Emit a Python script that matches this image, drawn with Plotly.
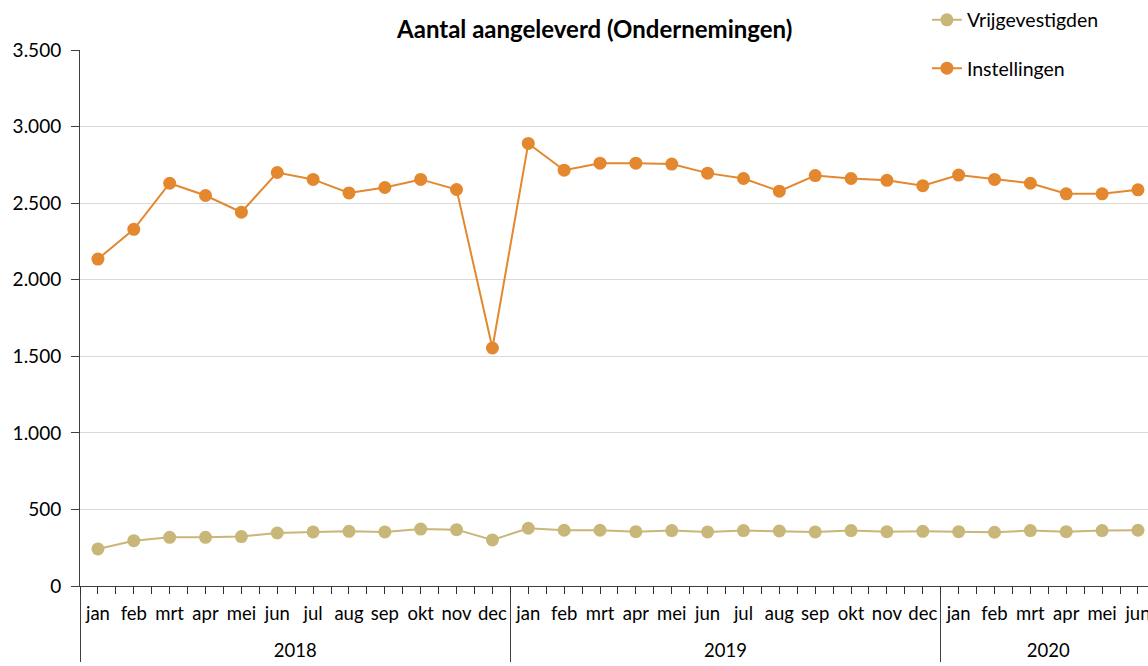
import plotly.graph_objects as go

years = ["2018"] * 12 + ["2019"] * 12 + ["2020"] * 6
months = ["jan", "feb", "mrt", "apr", "mei", "jun", "jul", "aug", "sep", "okt", "nov", "dec",
          "jan", "feb", "mrt", "apr", "mei", "jun", "jul", "aug", "sep", "okt", "nov", "dec",
          "jan", "feb", "mrt", "apr", "mei", "jun"]

vrijgevestigden = [242, 296, 318, 318, 323, 346, 353, 357, 353, 372, 368, 301,
                   377, 364, 364, 355, 362, 353, 362, 359, 353, 362, 355, 357,
                   355, 351, 362, 355, 362, 364]
instellingen = [2135, 2329, 2630, 2550, 2441, 2700, 2655, 2567, 2602, 2655, 2589, 1554,
                2890, 2715, 2761, 2761, 2755, 2696, 2661, 2578, 2680, 2661, 2649, 2614,
                2683, 2655, 2630, 2561, 2561, 2587]

y_ticks = [0, 500, 1000, 1500, 2000, 2500, 3000, 3500]
y_ticktext = ["0", "500", "1.000", "1.500", "2.000", "2.500", "3.000", "3.500"]

# outer level labels (leading line break pushes the year row lower, as in the reference)
year_labels = ["<br>" + y for y in years]

FONT = "Lato, 'Open Sans', sans-serif"
tan = "#C9B679"
orange = "#E4882F"

fig = go.Figure()
fig.add_trace(go.Scatter(x=[year_labels, months], y=vrijgevestigden, name="Vrijgevestigden",
                         mode="lines+markers", legendgroup="a",
                         line=dict(color=tan, width=2), marker=dict(color=tan, size=13)))
fig.add_trace(go.Scatter(x=[year_labels, months], y=instellingen, name="Instellingen",
                         mode="lines+markers", legendgroup="b",
                         line=dict(color=orange, width=2), marker=dict(color=orange, size=13)))

xr = [-0.5, 29.28]
fig.update_layout(
    width=1148, height=666,
    margin=dict(l=80, r=0, t=50, b=80),
    paper_bgcolor="white", plot_bgcolor="white",
    font=dict(family=FONT, size=19, color="#000000"),
    title=dict(text="<b>Aantal aangeleverd (Ondernemingen)</b>", x=0.518, xanchor="center",
               yref="container", y=1 - 30 / 666, yanchor="middle",
               font=dict(size=24, color="#000000")),
    legend=dict(x=0.793, y=1.092, xanchor="left", yanchor="top", bgcolor="rgba(0,0,0,0)",
                tracegroupgap=20, font=dict(size=19.5)),
    showlegend=True,
    xaxis=dict(type="multicategory", range=xr, showgrid=False, showline=True,
               linecolor="#404040", linewidth=1, ticks="outside", ticklen=6,
               tickcolor="#404040", tickwidth=1, showdividers=True,
               dividercolor="#404040", dividerwidth=1, tickfont=dict(size=18.5),
               tickangle=0, automargin=False, ticklabelstandoff=11),
    xaxis2=dict(overlaying="x", range=xr, showgrid=False, showline=False, zeroline=False,
                showticklabels=False, ticks="outside", ticklen=7, tickcolor="#303030",
                tickwidth=1, tick0=-0.5, dtick=0.5, anchor="y", side="bottom",
                layer="above traces", automargin=False),
    yaxis=dict(range=[0, 3500], tickvals=y_ticks, ticktext=y_ticktext, showgrid=True,
               gridcolor="#D9D9D9", gridwidth=1, showline=True, linecolor="#404040",
               ticks="outside", ticklen=8, tickcolor="#404040", zeroline=False,
               tickfont=dict(size=19), ticklabelstandoff=6, automargin=False),
)
# invisible trace on xaxis2 so that the tick-mark overlay axis renders
fig.add_trace(go.Scatter(x=[0], y=[0], xaxis="x2", mode="markers",
                         marker=dict(opacity=0), showlegend=False, hoverinfo="skip"))
fig.write_html("out.html", config={"displayModeBar": False},
               post_script="document.body.style.margin='0';document.body.style.overflow='hidden';")
